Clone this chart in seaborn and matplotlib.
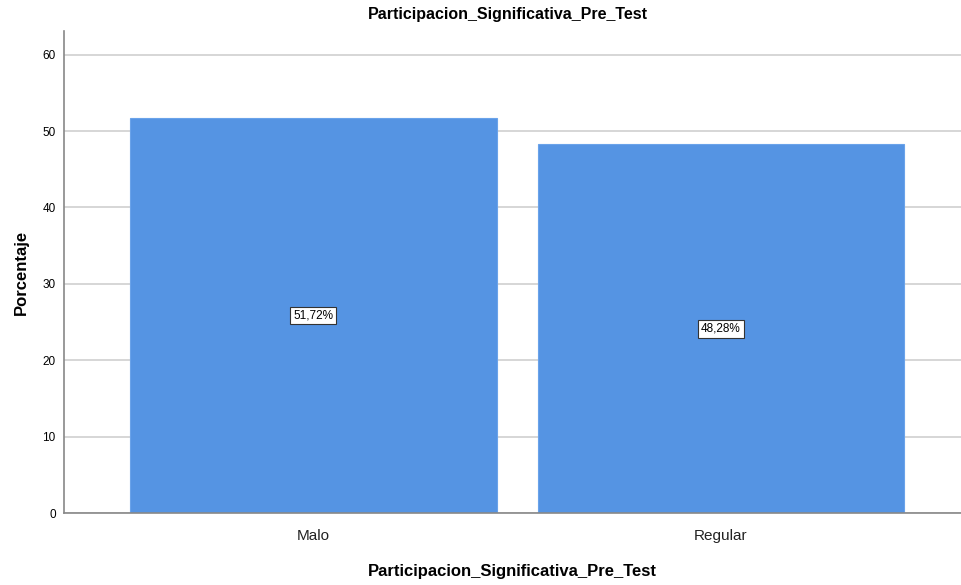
import matplotlib
matplotlib.use("Agg")
import matplotlib.pyplot as plt
import seaborn as sns
import pandas as pd

categorias = ["Malo", "Regular"]
porcentajes = [51.72, 48.28]
etiquetas = ["51,72%", "48,28%"]

titulo = "Participacion_Significativa_Pre_Test"

sns.set_style("white")
plt.rcParams['font.family'] = ['Liberation Sans', 'DejaVu Sans']
plt.rcParams['text.color'] = 'black'

df = pd.DataFrame({"cat": categorias, "pct": porcentajes})

fig = plt.figure(figsize=(9.61, 5.85), dpi=100)
ax = fig.add_axes([64 / 961, 72 / 585, (961 - 64) / 961, (513 - 31) / 585])

ax.set_axisbelow(True)
ax.yaxis.grid(True, color="#cfcfcf", linewidth=1.2)
sns.barplot(data=df, x="cat", y="pct", color="#5594e3", saturation=1,
            width=0.9, edgecolor="#6aa3ea", linewidth=0.8, ax=ax)

for i, (v, t) in enumerate(zip(porcentajes, etiquetas)):
    ax.text(i, v / 2, t, ha="center", va="center", fontsize=8.5, color="black",
            bbox=dict(boxstyle="square,pad=0.25", facecolor="white",
                      edgecolor="#333333", linewidth=0.8))

ax.set_xlim(-0.612, 1.589)
ax.set_ylim(0, 63.1)
ax.set_yticks([0, 10, 20, 30, 40, 50, 60])
ax.tick_params(axis="y", length=0, labelsize=8.5, pad=6, labelcolor="black")
ax.tick_params(axis="x", length=0, labelsize=11, pad=11.5, labelcolor="#222222")

for s in ["top", "right"]:
    ax.spines[s].set_visible(False)
for s in ["left", "bottom"]:
    ax.spines[s].set_color("#888888")
    ax.spines[s].set_linewidth(1.2)

ax.set_ylabel("Porcentaje", fontsize=12, fontweight="bold", labelpad=10, color="black")
ax.set_xlabel(titulo, fontsize=12, fontweight="bold", labelpad=15, color="black")
fig.text(0.5 * (64 + 961) / 961 - 0.005, 1 - 14 / 585, titulo, ha="center", va="center",
         fontsize=11.5, fontweight="bold", color="black")

fig.savefig("out.png", dpi=100)
